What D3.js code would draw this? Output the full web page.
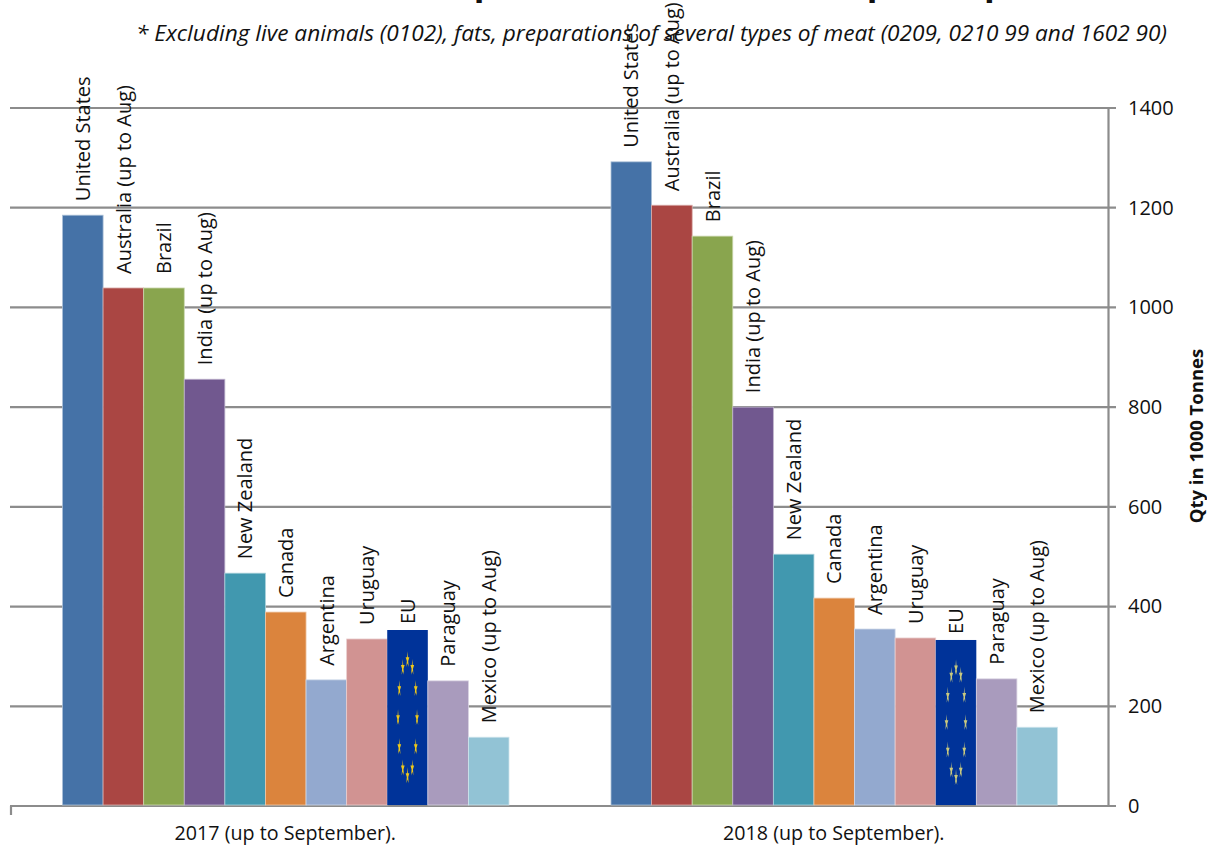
<!DOCTYPE html>
<html><head><meta charset="utf-8">
<script src="https://cdn.jsdelivr.net/npm/d3@7/dist/d3.min.js"></script>
<style>html,body{margin:0;padding:0;background:#fff;overflow:hidden}svg{display:block}text{font-family:"Open Sans",sans-serif;fill:#111}</style>
</head><body><svg id="c" width="1207" height="846"></svg>
<script>
const periods = ["2017 (up to September).", "2018 (up to September)."];
const countries = ["United States","Australia (up to Aug)","Brazil","India (up to Aug)","New Zealand","Canada","Argentina","Uruguay","EU","Paraguay","Mexico (up to Aug)"];
const values2017 = [1185,1039,1039,856,467,389,253,335,353,251,138];
const values2018 = [1292,1205,1143,800,505,417,355,337,333,255,158];
const colors = ["#4572a7","#aa4643","#89a54e","#71588f","#4198af","#db843d","#93a9cf","#d19392","#003399","#a99bbd","#92c3d5"];
const yTicks = [0,200,400,600,800,1000,1200,1400];
const starColors = ["#eec81a","#c9c97e"];

const svg = d3.select("#c");
const defs = svg.append("defs");
defs.append("filter").attr("id","soft").append("feGaussianBlur").attr("stdDeviation",0.35);
const M = {left:11,right:1108,top:108,bottom:806};
const y = d3.scaleLinear().domain([0,1400]).range([M.bottom,M.top]);
const x0 = d3.scaleBand().domain(periods).range([M.left,M.right]);
const inner = d3.scaleBand().domain(countries).range([51.5,498]);
const grey = "#8c8c8c";

// title (clipped by the top of the frame, as in the reference)
svg.append("text").attr("x",1147).attr("y",-6).attr("text-anchor","end")
  .attr("font-size",35).attr("font-weight",700).text("Main beef exporters in the world (up to September)");
svg.append("text").attr("x",1167).attr("y",41).attr("text-anchor","end")
  .attr("font-size",22.5).attr("font-style","italic")
  .attr("textLength",1031).attr("lengthAdjust","spacingAndGlyphs")
  .text("* Excluding live animals (0102), fats, preparations of several types of meat (0209, 0210 99 and 1602 90)");

// grid
svg.append("g").selectAll("line").data(yTicks).join("line")
  .attr("x1",M.left-1).attr("x2",M.right+8).attr("y1",d=>y(d)).attr("y2",d=>y(d))
  .attr("stroke",grey).attr("stroke-width",2.2);

// bars
const groups = svg.append("g").selectAll("g").data(periods).join("g")
  .attr("transform",d=>`translate(${x0(d)},0)`);
const seriesOf = i => (i===0?values2017:values2018);
groups.each(function(p,gi){
  const g = d3.select(this);
  const rows = countries.map((c,i)=>({c,i,v:seriesOf(gi)[i]}));
  g.selectAll("rect").data(rows).join("rect")
    .attr("x",d=>inner(d.c)).attr("width",inner.bandwidth())
    .attr("y",d=>y(d.v)).attr("height",d=>y(0)-y(d.v)-1)
    .attr("fill",d=>colors[d.i])
    .attr("stroke",d=>d.c==="EU"?"none":d3.interpolateRgb(colors[d.i],"#fff")(0.55)).attr("stroke-width",0.8);
  // EU flag stars
  const eu = rows.find(d=>d.c==="EU");
  const w = inner.bandwidth(), h = y(0)-y(eu.v), cx = inner("EU")+w/2, cy = y(eu.v)+h/2;
  g.selectAll("path.star").data(d3.range(12)).join("path").attr("class","star")
    .attr("d",d3.symbol(d3.symbolStar,24))
    .attr("fill",starColors[gi]).attr("filter","url(#soft)")
    .attr("transform",k=>{const a=k*Math.PI/6;
      return `translate(${cx+0.234*w*Math.sin(a)},${cy-0.33*h*Math.cos(a)}) scale(0.42,1.9)`;});
  // rotated labels
  g.selectAll("text").data(rows).join("text")
    .attr("font-size",20)
    .attr("transform",d=>`translate(${inner(d.c)+w/2},${y(d.v)-(d.c==="EU"?6:14)}) rotate(-90)`)
    .attr("dy","0.36em").text(d=>d.c);
});

// axes
const axisY = svg.append("g").attr("transform",`translate(${M.right},0)`)
  .call(d3.axisRight(y).tickValues(yTicks).tickSize(0).tickPadding(20).tickFormat(d3.format("d")));
axisY.select(".domain").attr("stroke",grey).attr("stroke-width",2.2);
axisY.selectAll("text").attr("font-size",20).attr("font-family",'"Open Sans"').attr("fill","#111");
const axisX = svg.append("g").attr("transform",`translate(0,${M.bottom})`)
  .call(d3.axisBottom(x0).tickSize(0).tickPadding(20));
axisX.select(".domain").remove();
axisX.selectAll("text").attr("font-size",19.7).attr("font-family",'"Open Sans"').attr("fill","#111");
svg.append("g").selectAll("line").data([M.left]).join("line")
  .attr("x1",d=>d).attr("x2",d=>d).attr("y1",M.bottom).attr("y2",M.bottom+9)
  .attr("stroke",grey).attr("stroke-width",2.2);

svg.append("text").attr("transform","translate(1196,436) rotate(-90)").attr("text-anchor","middle")
  .attr("dy","0.36em").attr("font-size",18.5).attr("font-weight",700).text("Qty in 1000 Tonnes");
</script></body></html>
